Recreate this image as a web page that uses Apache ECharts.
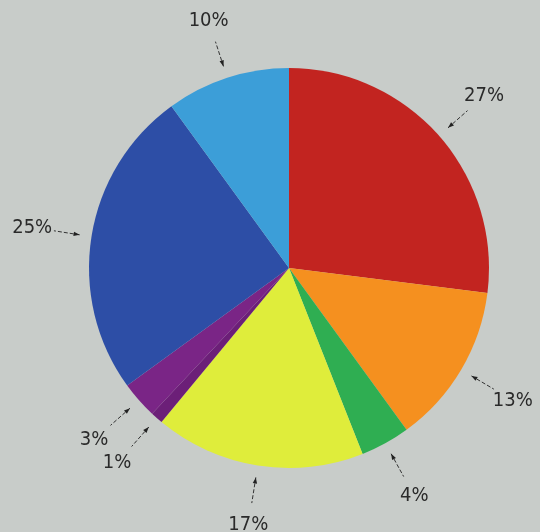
<!DOCTYPE html>
<html>
<head>
<meta charset="utf-8">
<script src="https://cdn.jsdelivr.net/npm/echarts@6/dist/echarts.min.js"></script>
<style>
html,body{margin:0;padding:0;background:#c8ccc9;}
#c{width:540px;height:532px;}
</style>
</head>
<body>
<div id="c"></div>
<script>
// Data (clockwise from 12 o'clock)
const labels = ['27%', '13%', '4%', '17%', '1%', '3%', '25%', '10%'];
const values = [27, 13, 4, 17, 1, 3, 25, 10];
const colors = ['#c22420', '#f5901f', '#2fae52', '#dfed3b', '#6c1f78', '#7a2586', '#2d4ea6', '#3c9ed8'];

const CX = 289, CY = 268, R = 200;
const LABEL_D = 60, LINE_IN = 12, LINE_OUT = 38;

const total = values.reduce((a, b) => a + b, 0);
const mids = [];
let acc = 0;
values.forEach(v => {
  mids.push((acc + v / 2) / total * 2 * Math.PI);
  acc += v;
});

const graphics = [];
mids.forEach(a => {
  const s = Math.sin(a), c = -Math.cos(a);
  const x1 = CX + (R + LINE_IN) * s, y1 = CY + (R + LINE_IN) * c;
  const x2 = CX + (R + LINE_OUT) * s, y2 = CY + (R + LINE_OUT) * c;
  graphics.push({
    type: 'line', silent: true,
    shape: { x1: x1, y1: y1, x2: x2, y2: y2 },
    style: { stroke: '#333', lineWidth: 1, lineDash: [4, 2] }
  });
  const bx = CX + (R + LINE_IN + 6) * s, by = CY + (R + LINE_IN + 6) * c;
  const px = -c * 2.2, py = s * 2.2;
  graphics.push({
    type: 'polygon', silent: true,
    shape: { points: [[x1, y1], [bx + px, by + py], [bx - px, by - py]] },
    style: { fill: '#222' }
  });
});

const chart = echarts.init(document.getElementById('c'));
chart.setOption({
  backgroundColor: '#c8ccc9',
  animation: false,
  graphic: graphics,
  series: [{
    type: 'pie',
    center: [CX, CY],
    radius: [0, R],
    startAngle: 90,
    clockwise: true,
    avoidLabelOverlap: false,
    data: values.map((v, i) => ({ value: v, name: labels[i], itemStyle: { color: colors[i] } })),
    label: {
      show: true,
      formatter: '{b}',
      fontFamily: "'Liberation Sans Narrow', 'DejaVu Sans Condensed', 'Roboto', sans-serif",
      fontSize: 20,
      color: '#2a2a2a'
    },
    labelLine: { show: false },
    labelLayout: function (p) {
      const a = mids[p.dataIndex];
      return {
        x: CX + (R + LABEL_D) * Math.sin(a),
        y: CY - (R + LABEL_D) * Math.cos(a),
        align: 'center',
        verticalAlign: 'middle'
      };
    }
  }]
});
</script>
</body>
</html>
